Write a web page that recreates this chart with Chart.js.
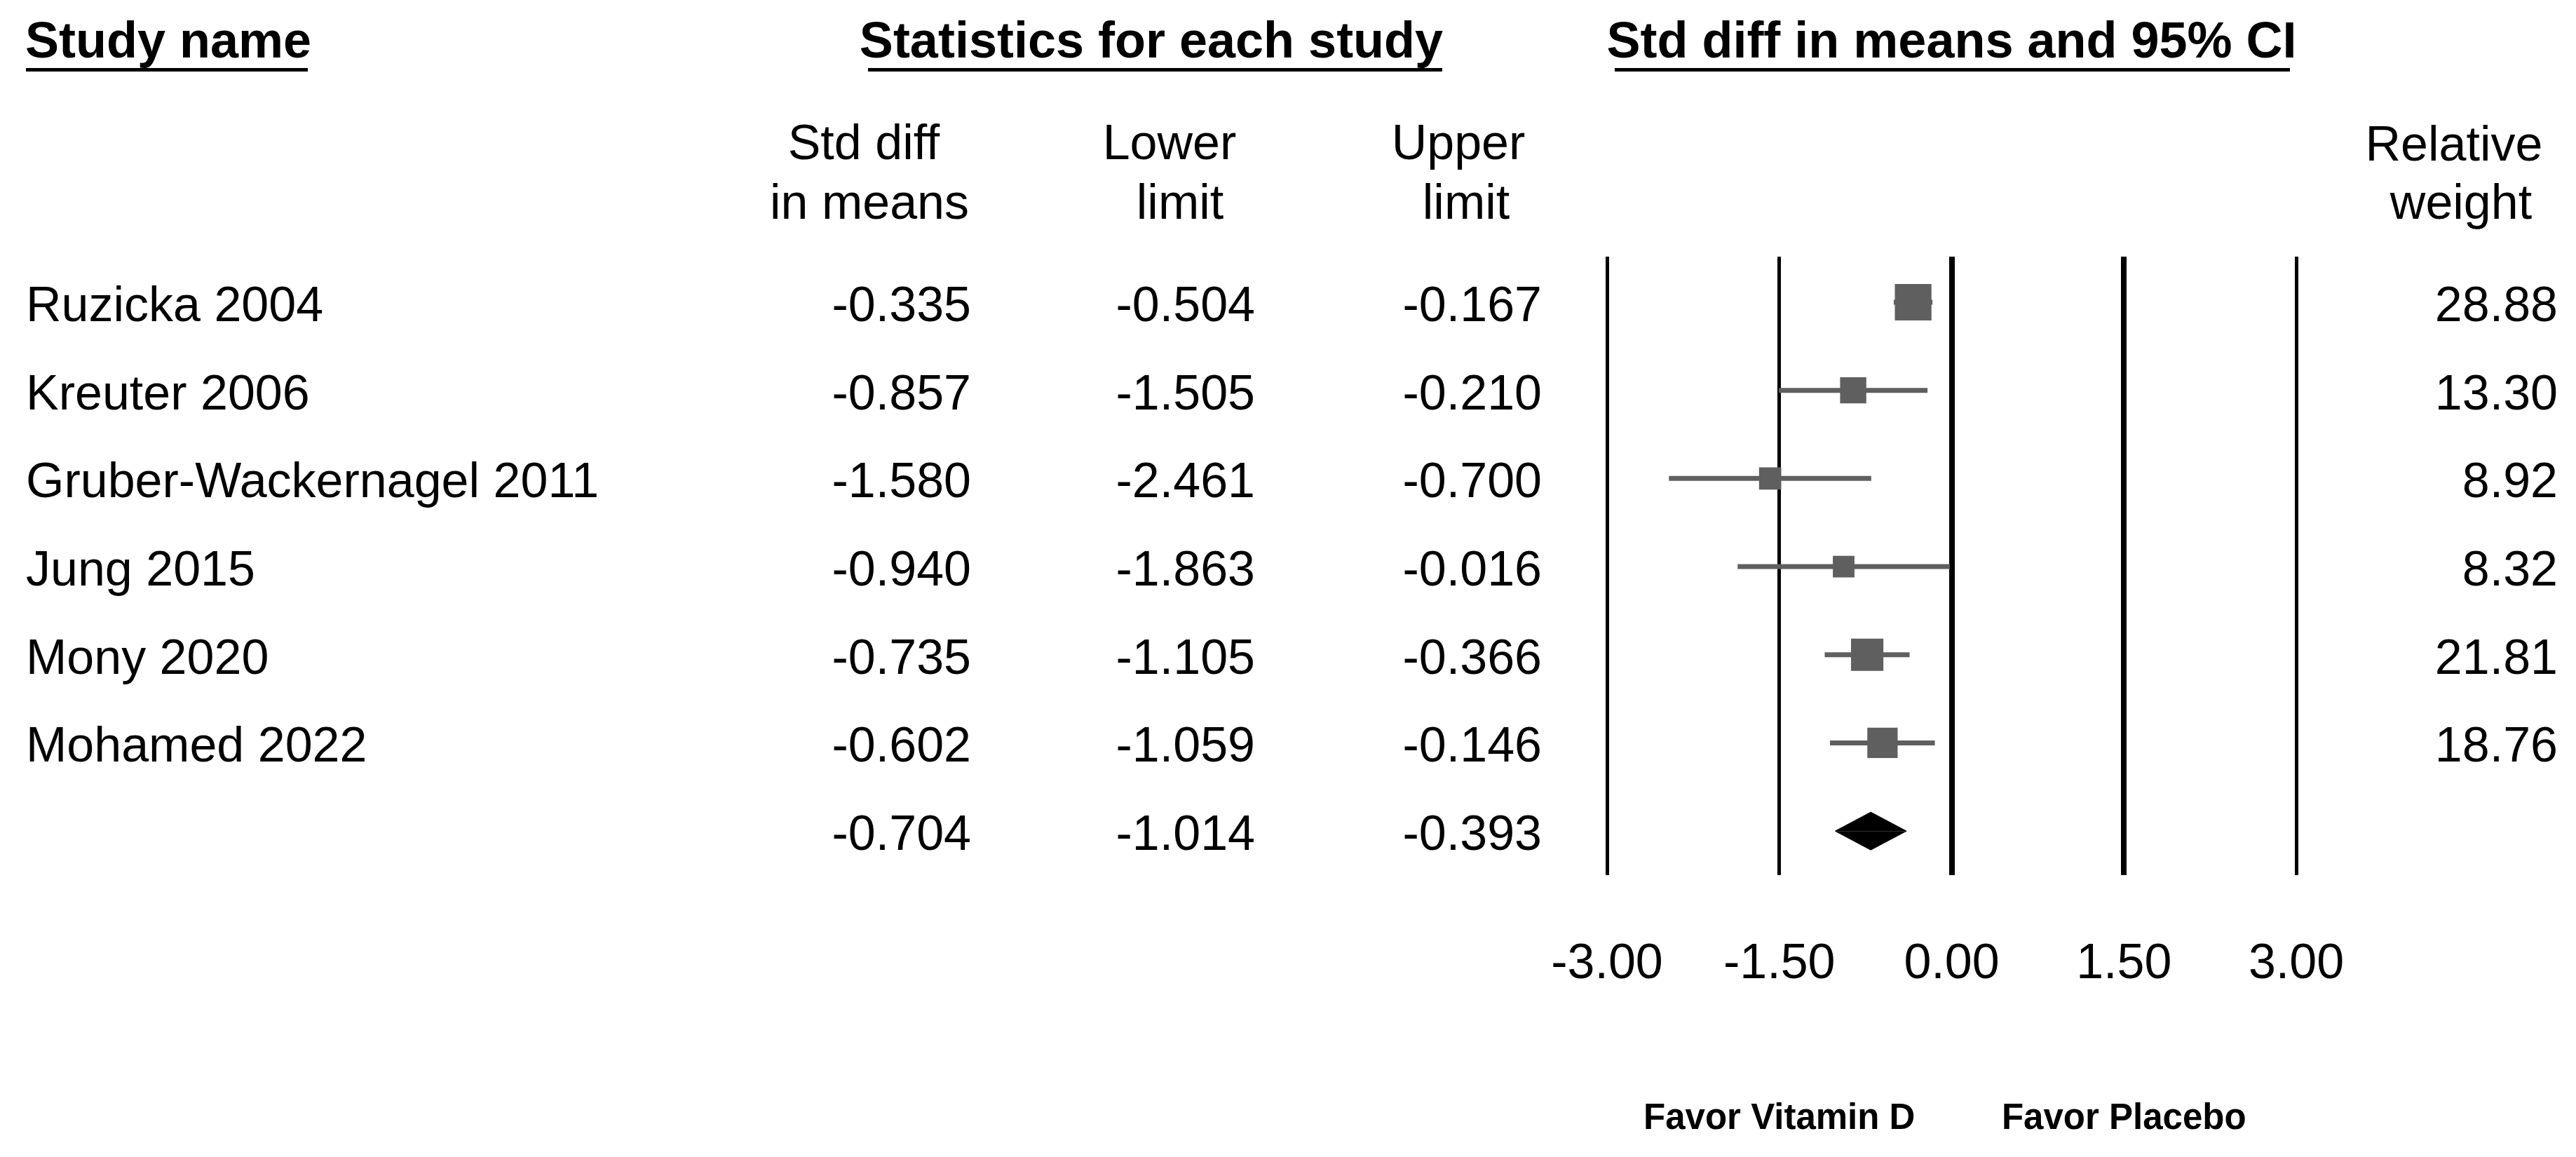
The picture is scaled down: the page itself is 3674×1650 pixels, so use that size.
<!DOCTYPE html>
<html>
<head>
<meta charset="utf-8">
<script src="https://cdn.jsdelivr.net/npm/chart.js@4/dist/chart.umd.min.js"></script>
<style>
  html, body { margin: 0; padding: 0; background: #fff; }
  canvas { display: block; }
</style>
</head>
<body>
<canvas id="forest" width="3674" height="1650"></canvas>
<script>
// data
const studies = ["Ruzicka 2004", "Kreuter 2006", "Gruber-Wackernagel 2011", "Jung 2015", "Mony 2020", "Mohamed 2022"];
const smd = [-0.335, -0.857, -1.580, -0.940, -0.735, -0.602];
const lower = [-0.504, -1.505, -2.461, -1.863, -1.105, -1.059];
const upper = [-0.167, -0.210, -0.700, -0.016, -0.366, -0.146];
const weights = [28.88, 13.30, 8.92, 8.32, 21.81, 18.76];
const pooled = [-0.704, -1.014, -0.393]; // estimate, lower, upper
const xTicks = [-3, -1.5, 0, 1.5, 3];

const FONT = "'Liberation Sans', Arial, sans-serif";
const GREY = "#5f5f5f";
const summaryRow = studies.length;
const diamondHalf = 0.215; // in row units

// one short line per study for the CI
let whiskers = studies.map((s, i) => ({
    type: "line",
    order: 2,
    data: [{ x: lower[i], y: i }, { x: upper[i], y: i }],
    borderColor: GREY,
    borderWidth: 7,
    borderCapStyle: "butt",
    pointRadius: 0,
    fill: false
}));

let squares = {
    type: "scatter",
    order: 0,
    data: smd.map((v, i) => ({ x: v, y: i })),
    pointStyle: "rect",
    backgroundColor: GREY,
    borderWidth: 0,
    // box side grows with the weight
    pointRadius: weights.map(w => (8.6 * Math.sqrt(w) + 6) / Math.SQRT2)
};

let diamondTop = {
    type: "line",
    order: 1,
    data: [
        { x: pooled[1], y: summaryRow },
        { x: pooled[0], y: summaryRow - diamondHalf },
        { x: pooled[2], y: summaryRow }
    ],
    borderColor: "#000",
    borderWidth: 1,
    backgroundColor: "#000",
    pointRadius: 0,
    tension: 0,
    fill: { value: summaryRow }
};
let diamondBottom = Object.assign({}, diamondTop, {
    data: [
        { x: pooled[1], y: summaryRow },
        { x: pooled[0], y: summaryRow + diamondHalf },
        { x: pooled[2], y: summaryRow }
    ]
});

const tablePlugin = {
    id: "table",
    afterDraw(chart) {
        const c = chart.ctx;
        const y = chart.scales.y;
        const x = chart.scales.x;
        c.save();
        c.fillStyle = "#000";
        c.textBaseline = "alphabetic";

        // bold headers with underlines
        c.font = "bold 72px " + FONT;
        c.textAlign = "left";
        c.fillText("Study name", 36, 82);
        c.textAlign = "center";
        c.fillText("Statistics for each study", 1642, 82);
        c.fillText("Std diff in means and 95% CI", x.getPixelForValue(0), 82);
        c.fillRect(37, 97, 402, 5);
        c.fillRect(1238, 97, 819, 5);
        c.fillRect(2303, 97, 963, 5);

        // column headers
        c.font = "70px " + FONT;
        [["Std diff", 1232, 227], ["in means", 1240, 312],
         ["Lower", 1668, 227], ["limit", 1683, 312],
         ["Upper", 2080, 227], ["limit", 2091, 312],
         ["Relative", 3500, 229], ["weight", 3510, 312]].forEach(h => {
            c.fillText(h[0], h[1], h[2]);
        });

        // rows
        studies.forEach((name, i) => {
            const py = y.getPixelForValue(i) + 27;
            c.textAlign = "left";
            c.fillText(name, 37, py);
            c.textAlign = "right";
            c.fillText(smd[i].toFixed(3), 1385, py);
            c.fillText(lower[i].toFixed(3), 1790, py);
            c.fillText(upper[i].toFixed(3), 2199, py);
            c.fillText(weights[i].toFixed(2), 3648, py);
        });
        const sy = y.getPixelForValue(summaryRow) + 27;
        c.textAlign = "right";
        c.fillText(pooled[0].toFixed(3), 1385, sy);
        c.fillText(pooled[1].toFixed(3), 1790, sy);
        c.fillText(pooled[2].toFixed(3), 2199, sy);

        // favours labels
        c.font = "bold 51px " + FONT;
        c.textAlign = "center";
        c.fillText("Favor Vitamin D", x.getPixelForValue(-1.5), 1610);
        c.fillText("Favor Placebo", x.getPixelForValue(1.5), 1610);
        c.restore();
    }
};

let chart = new Chart(document.getElementById("forest").getContext("2d"), {
    data: { datasets: [squares, diamondTop, diamondBottom].concat(whiskers) },
    options: {
        responsive: false,
        animation: false,
        devicePixelRatio: 1,
        events: [],
        layout: { padding: { left: 2292, right: 399, top: 366, bottom: 232 } },
        plugins: { legend: { display: false }, tooltip: { enabled: false } },
        scales: {
            x: {
                type: "linear",
                min: -3,
                max: 3,
                afterBuildTicks: s => { s.ticks = xTicks.map(v => ({ value: v })); },
                afterFit: s => { s.height = 170; },
                grid: {
                    color: "#000",
                    lineWidth: ctx => (ctx.tick && (ctx.tick.value === 0 || ctx.tick.value === 1.5)) ? 8 : 5,
                    drawTicks: false
                },
                border: { display: false },
                ticks: {
                    color: "#000",
                    font: { family: FONT, size: 70, lineHeight: 1.2 },
                    padding: 86,
                    maxRotation: 0,
                    autoSkip: false,
                    callback: v => Number(v).toFixed(2)
                }
            },
            y: {
                type: "linear",
                display: false,
                reverse: true,
                min: -0.517,
                max: 6.5
            }
        }
    },
    plugins: [tablePlugin]
});
</script>
</body>
</html>
